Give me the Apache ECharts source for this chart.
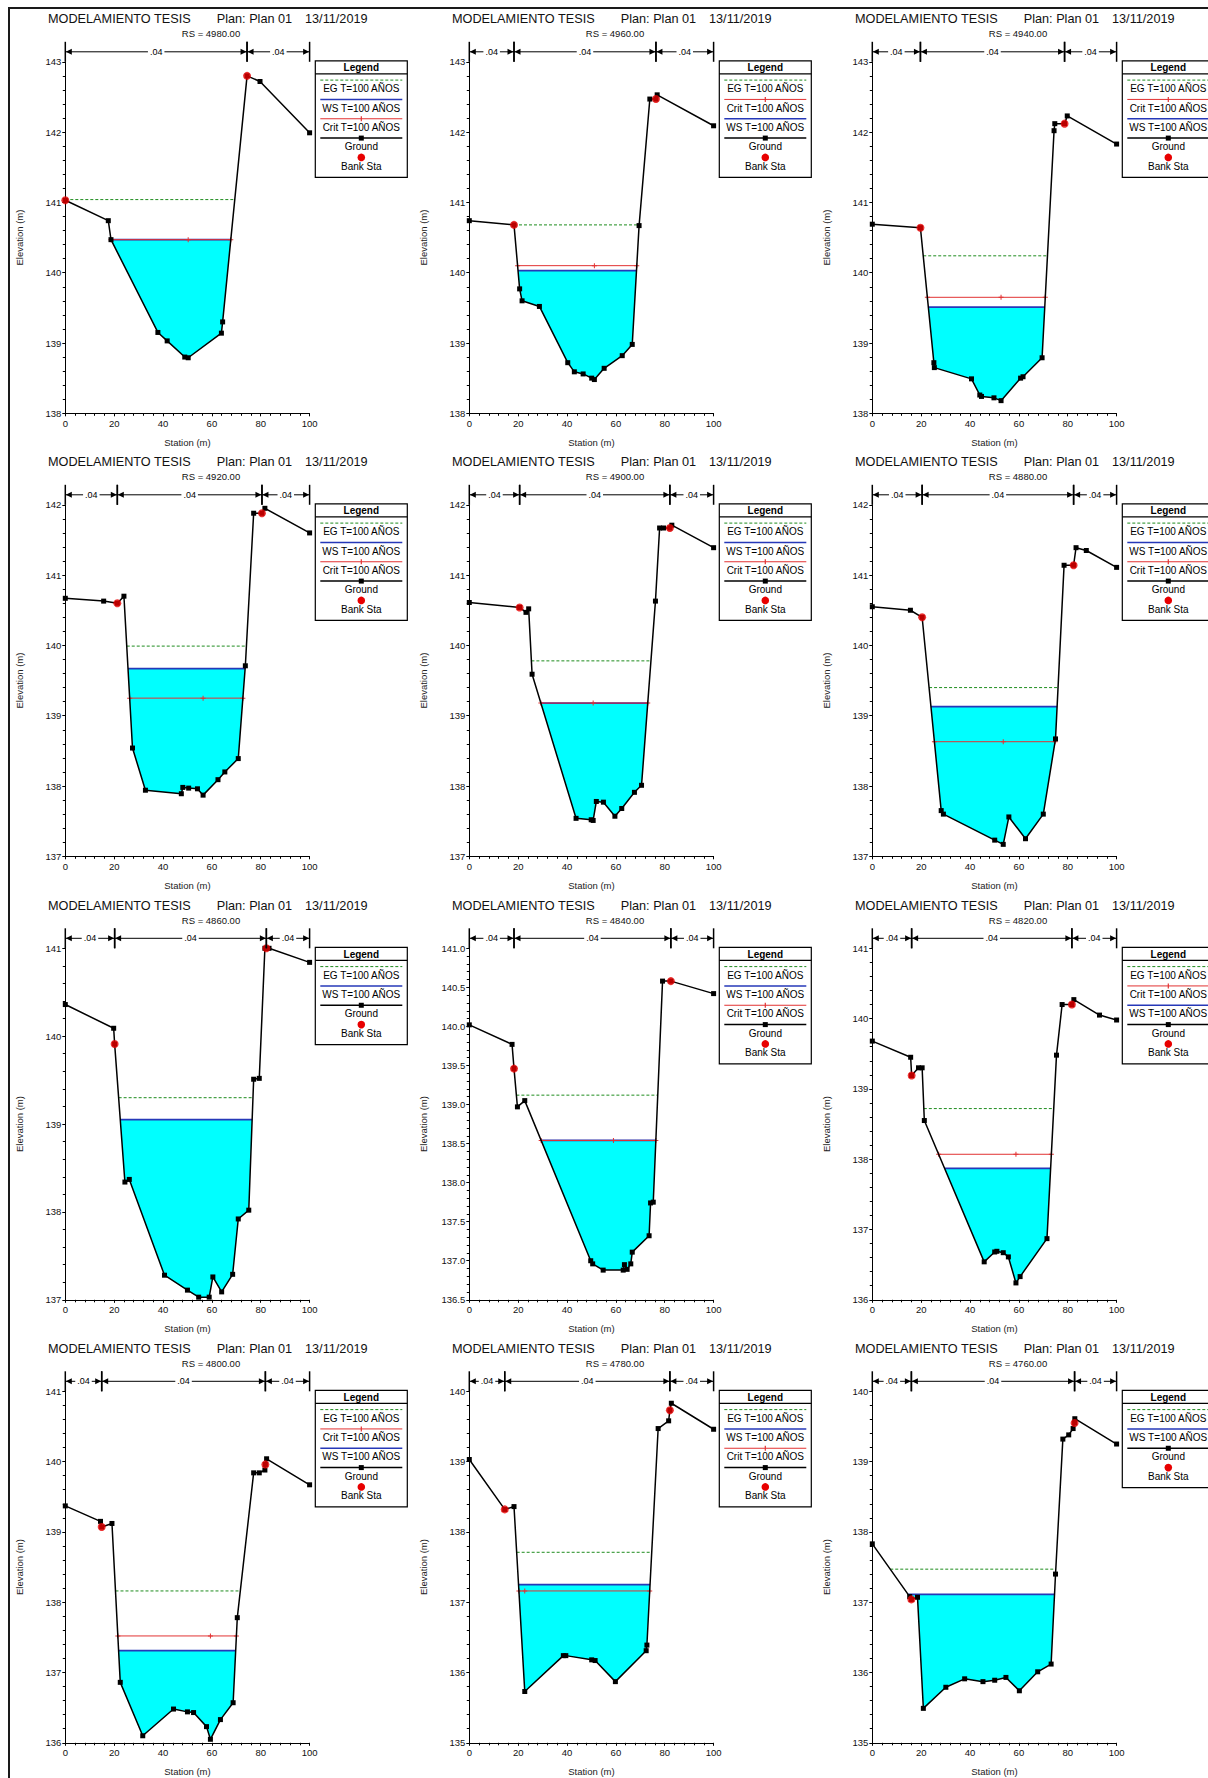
<!DOCTYPE html>
<html><head><meta charset="utf-8">
<script src="https://cdn.jsdelivr.net/npm/echarts@6/dist/echarts.min.js"></script>
<style>html,body{margin:0;padding:0;background:#fff}#c{width:1208px;height:1778px}</style>
</head><body><div id="c"></div>
<script>
// ---------------- DATA ----------------
const projectTitle = 'MODELAMIENTO TESIS';
const planText = 'Plan: Plan 01';
const dateText = '13/11/2019';
const riverStations = ['4980.00','4960.00','4940.00','4920.00','4900.00','4880.00','4860.00','4840.00','4820.00','4800.00','4780.00','4760.00'];
const yMins = [138,138,138,137,137,137,137,136.5,136,136,135,135];
const yMaxs = [143,143,143,142,142,142,141,141,141,141,140,140];
const yIntervals = [1,1,1,1,1,1,1,0.5,1,1,1,1];
const xTicks = [0,20,40,60,80,100];
const manningN = ['.04','.04','.04'];
const legendNames = {eg:'EG T=100 AÑOS', ws:'WS T=100 AÑOS', crit:'Crit T=100 AÑOS', ground:'Ground', bank:'Bank Sta'};

const ground4980 = [[0,141.03],[17.6,140.74],[18.7,140.47],[37.9,139.15],[41.7,139.03],[48.9,138.80],[50.3,138.79],[63.9,139.14],[64.4,139.30],[74.4,142.80],[79.7,142.72],[100,141.99]];
const ground4960 = [[0,140.74],[18.3,140.68],[20.6,139.77],[21.6,139.60],[28.7,139.52],[40.3,138.72],[43.0,138.59],[46.6,138.56],[50.1,138.50],[51.2,138.48],[55.2,138.64],[62.6,138.82],[66.7,138.98],[69.5,140.67],[73.9,142.47],[76.4,142.47],[76.9,142.53],[100,142.09]];
const ground4940 = [[0,140.69],[19.7,140.64],[25.2,138.72],[25.4,138.65],[40.6,138.49],[44.0,138.26],[44.7,138.24],[49.8,138.22],[52.7,138.18],[60.7,138.50],[61.7,138.52],[69.5,138.79],[74.4,142.02],[74.7,142.12],[78.7,142.12],[79.8,142.23],[100,141.83]];
const ground4920 = [[0,140.67],[15.7,140.63],[21.3,140.60],[24.0,140.70],[27.5,138.54],[32.8,137.94],[47.5,137.89],[48.1,137.98],[50.5,137.97],[54.1,137.96],[56.4,137.87],[62.5,138.09],[65.3,138.20],[70.8,138.39],[73.7,139.71],[77.1,141.88],[80.5,141.88],[81.7,141.95],[100,141.60]];
const ground4900 = [[0,140.61],[20.6,140.54],[23.2,140.47],[24.3,140.52],[25.7,139.59],[43.7,137.54],[49.9,137.52],[50.7,137.51],[52.0,137.78],[54.9,137.77],[59.6,137.57],[62.4,137.68],[67.6,137.91],[70.5,138.01],[76.2,140.63],[77.9,141.67],[79.5,141.67],[82.1,141.67],[82.9,141.71],[100,141.39]];
const ground4880 = [[0,140.55],[15.6,140.50],[20.4,140.40],[28.2,137.65],[29.1,137.60],[50.1,137.23],[53.6,137.17],[55.9,137.56],[62.7,137.25],[70.0,137.60],[75.0,138.67],[78.5,141.14],[82.4,141.14],[83.4,141.39],[87.6,141.35],[100,141.11]];
const ground4860 = [[0,140.36],[19.8,140.09],[20.2,139.91],[24.4,138.34],[26.2,138.37],[40.6,137.28],[50.0,137.11],[54.6,137.03],[58.9,137.03],[60.4,137.26],[64.0,137.09],[68.5,137.29],[70.8,137.92],[75.1,138.02],[77.1,139.51],[79.4,139.52],[81.7,141.00],[82.3,141.00],[83.4,141.00],[100,140.84]];
const ground4840 = [[0,140.02],[17.5,139.77],[18.3,139.46],[19.7,138.97],[22.7,139.05],[49.7,137.00],[50.5,136.96],[54.8,136.88],[63.0,136.88],[63.5,136.95],[64.6,136.89],[66.1,136.96],[66.7,137.11],[73.6,137.32],[74.2,137.74],[75.3,137.75],[79.1,140.58],[82.5,140.58],[100,140.42]];
const ground4820 = [[0,139.68],[15.7,139.45],[16.1,139.19],[18.9,139.30],[20.4,139.30],[21.3,138.55],[45.8,136.54],[50.1,136.68],[51.0,136.69],[53.6,136.67],[55.7,136.61],[58.8,136.24],[60.5,136.33],[71.5,136.87],[75.4,139.48],[77.7,140.20],[81.7,140.20],[82.5,140.27],[93.0,140.05],[100,139.98]];
const ground4800 = [[0,139.37],[14.4,139.15],[14.9,139.07],[19.1,139.12],[22.5,136.86],[31.7,136.10],[44.3,136.48],[50.0,136.44],[52.5,136.43],[57.8,136.23],[59.4,136.05],[63.5,136.33],[68.7,136.57],[70.4,137.78],[77.1,139.84],[79.4,139.84],[81.7,139.88],[81.9,139.96],[82.4,140.04],[100,139.67]];
const ground4780 = [[0,139.03],[14.5,138.32],[18.3,138.36],[22.7,135.73],[38.5,136.24],[39.5,136.24],[50.1,136.18],[51.5,136.17],[59.8,135.87],[72.4,136.31],[72.7,136.39],[77.3,139.47],[81.6,139.58],[82.1,139.73],[82.7,139.83],[100,139.46]];
const ground4760 = [[0,137.83],[15.3,137.08],[16.0,137.04],[18.5,137.07],[20.9,135.49],[30.1,135.79],[37.8,135.91],[45.3,135.87],[50.1,135.89],[54.7,135.93],[60.2,135.74],[67.7,136.01],[73.2,136.12],[75.0,137.40],[78.0,139.32],[80.4,139.38],[82.2,139.47],[82.8,139.55],[82.9,139.61],[100,139.25]];

const bank4980 = [[0,141.03],[74.4,142.80]];
const bank4960 = [[18.3,140.68],[76.4,142.47]];
const bank4940 = [[19.7,140.64],[78.7,142.12]];
const bank4920 = [[21.3,140.60],[80.5,141.88]];
const bank4900 = [[20.6,140.54],[82.1,141.67]];
const bank4880 = [[20.4,140.40],[82.4,141.14]];
const bank4860 = [[20.2,139.91],[82.3,141.00]];
const bank4840 = [[18.3,139.46],[82.5,140.58]];
const bank4820 = [[16.1,139.19],[81.7,140.20]];
const bank4800 = [[14.9,139.07],[81.9,139.96]];
const bank4780 = [[14.5,138.32],[82.1,139.73]];
const bank4760 = [[16.0,137.04],[82.8,139.55]];

const egLevels   = [141.04,140.68,140.24,139.99,139.78,139.40,139.30,139.12,138.72,138.16,137.71,137.47];
const wsLevels   = [140.47,140.03,139.51,139.67,139.18,139.13,139.05,138.54,137.87,137.31,137.25,137.11];
const critLevels = [140.47,140.10,139.65,139.25,139.18,138.63,null,138.54,138.07,137.52,137.16,null];
const critMarks  = [50.3,51.2,52.7,56.4,50.7,53.6,null,59.0,58.8,59.4,22.7,null];

const grounds = [ground4980,ground4960,ground4940,ground4920,ground4900,ground4880,ground4860,ground4840,ground4820,ground4800,ground4780,ground4760];
const banks = [bank4980,bank4960,bank4940,bank4920,bank4900,bank4880,bank4860,bank4840,bank4820,bank4800,bank4780,bank4760];

// ---------------- LAYOUT / STYLE ----------------
const FONT = '"Liberation Sans", Arial, sans-serif';
const COL_LEFT = [65.3, 469.3, 872.3];
const ROW_TOP = [61.8, 504.8, 948.3, 1391.3];
const GRID_W = 244.3, GRID_H = 351.5;
const C_FILL = '#00FFFF', C_EG = '#1E8C1E', C_WS = '#2638B8', C_CRIT = '#E23232', C_BANK = '#E80000';
const PLUS = 'path://M2,0H3V2H5V3H3V5H2V3H0V2H2Z';

function interp(a, b, lev) { const t = (lev - a[1]) / (b[1] - a[1]); return a[0] + t * (b[0] - a[0]); }
function wetExtent(g, level) {
  let imin = 0;
  for (let k = 1; k < g.length; k++) if (g[k][1] < g[imin][1]) imin = k;
  let L = imin, R = imin;
  while (L > 0 && g[L - 1][1] < level) L--;
  while (R < g.length - 1 && g[R + 1][1] < level) R++;
  const xl = L > 0 ? interp(g[L - 1], g[L], level) : g[0][0];
  const xr = R < g.length - 1 ? interp(g[R], g[R + 1], level) : g[g.length - 1][0];
  return {L, R, xl, xr};
}

const grids = [], xAxes = [], yAxes = [], series = [], graphics = [];
graphics.push({type:'rect', silent:true, shape:{x:9, y:8, width:1400, height:1900}, style:{fill:'none', stroke:'#1a1a1a', lineWidth:2}});

function txt(x, y, text, size, opts) {
  return Object.assign({type:'text', x, y, silent:true, style:Object.assign({text, fontSize:size, fontFamily:FONT, fill:'#111', align:'left', verticalAlign:'middle'}, opts || {})});
}

function addLegend(bx, by, items) {
  const w = 92, h = 20 + items.length * 19.33;
  graphics.push({type:'rect', silent:true, shape:{x:bx, y:by, width:w, height:h}, style:{fill:'#fff', stroke:'#000', lineWidth:1.2}});
  graphics.push(txt(bx + w / 2, by + 7, 'Legend', 10, {align:'center', fontWeight:'bold', fill:'#000'}));
  graphics.push({type:'line', silent:true, shape:{x1:bx, y1:by + 13, x2:bx + w, y2:by + 13}, style:{stroke:'#000', lineWidth:1.2}});
  items.forEach((it, k) => {
    const ly = by + 19.3 + k * 19.33, ty = by + 28 + k * 19.33;
    const x1 = bx + 5, x2 = bx + w - 5, cx = bx + w / 2;
    if (it === 'eg') graphics.push({type:'line', silent:true, shape:{x1, y1:ly, x2, y2:ly}, style:{stroke:C_EG, lineWidth:1, lineDash:[3,2]}});
    if (it === 'ws') graphics.push({type:'line', silent:true, shape:{x1, y1:ly, x2, y2:ly}, style:{stroke:C_WS, lineWidth:1.5}});
    if (it === 'crit') {
      graphics.push({type:'line', silent:true, shape:{x1, y1:ly, x2, y2:ly}, style:{stroke:C_CRIT, lineWidth:1}});
      graphics.push({type:'rect', silent:true, shape:{x:cx - 0.6, y:ly - 2.5, width:1.2, height:5}, style:{fill:C_CRIT}});
    }
    if (it === 'ground') {
      graphics.push({type:'line', silent:true, shape:{x1, y1:ly, x2, y2:ly}, style:{stroke:'#000', lineWidth:1.5}});
      graphics.push({type:'rect', silent:true, shape:{x:cx - 2.5, y:ly - 2.5, width:5, height:5}, style:{fill:'#000'}});
    }
    if (it === 'bank') graphics.push({type:'circle', silent:true, shape:{cx, cy:ly, r:3.8}, style:{fill:C_BANK}});
    graphics.push(txt(cx, ty, legendNames[it], 10, {align:'center', fill:'#000'}));
  });
}

for (let i = 0; i < 12; i++) {
  const col = i % 3, row = Math.floor(i / 3);
  const gl = COL_LEFT[col], gt = ROW_TOP[row];
  const g = grounds[i], bk = banks[i];
  grids.push({left:gl, top:gt, width:GRID_W, height:GRID_H, outerBoundsMode:'none', containLabel:false, show:false});
  const labelStyle = {color:'#111', fontSize:9.5, fontFamily:FONT};
  xAxes.push({gridIndex:i, type:'value', min:xTicks[0], max:xTicks[xTicks.length - 1], interval:xTicks[1] - xTicks[0],
    axisLine:{show:true, onZero:false, lineStyle:{color:'#000', width:1}},
    axisTick:{show:true, length:3, lineStyle:{color:'#000'}},
    minorTick:{show:true, splitNumber:5, length:2.5, lineStyle:{color:'#000'}},
    splitLine:{show:false}, minorSplitLine:{show:false},
    axisLabel:Object.assign({margin:5, showMinLabel:true, showMaxLabel:true}, labelStyle),
    name:'Station (m)', nameLocation:'middle', nameGap:24,
    nameTextStyle:{color:'#222', fontSize:9.5, fontFamily:FONT}});
  const iv = yIntervals[i];
  yAxes.push({gridIndex:i, type:'value', min:yMins[i], max:yMaxs[i], interval:iv,
    axisLine:{show:true, onZero:false, lineStyle:{color:'#000', width:1}},
    axisTick:{show:true, length:3, lineStyle:{color:'#000'}},
    minorTick:{show:true, splitNumber:5, length:2.5, lineStyle:{color:'#000'}},
    splitLine:{show:false}, minorSplitLine:{show:false},
    axisLabel:Object.assign({margin:4, showMinLabel:true, showMaxLabel:true, formatter:v => iv < 1 ? v.toFixed(1) : String(Math.round(v))}, labelStyle),
    name:'Elevation (m)', nameLocation:'middle', nameGap:iv < 1 ? 41 : 41, nameRotate:90,
    nameTextStyle:{color:'#222', fontSize:9.5, fontFamily:FONT}});

  // water fill
  const ws = wsLevels[i];
  const we = wetExtent(g, ws);
  const poly = [[we.xl, ws]].concat(g.slice(we.L, we.R + 1)).concat([[we.xr, ws]]);
  series.push({type:'custom', xAxisIndex:i, yAxisIndex:i, silent:true, z:1, clip:true, animation:false,
    data:[[poly[0][0], poly[0][1]]],
    renderItem:(params, api) => ({type:'polygon', shape:{points:poly.map(p => api.coord(p))}, style:{fill:C_FILL}})});

  // EG
  const eg = egLevels[i], ee = wetExtent(g, eg);
  series.push({type:'line', xAxisIndex:i, yAxisIndex:i, silent:true, z:2, animation:false, symbol:'none',
    data:[[ee.xl, eg], [ee.xr, eg]], lineStyle:{color:C_EG, width:1, type:[3,2]}});
  // WS
  series.push({type:'line', xAxisIndex:i, yAxisIndex:i, silent:true, z:3, animation:false, symbol:'none',
    data:[[we.xl, ws], [we.xr, ws]], lineStyle:{color:C_WS, width:1.8}});
  // Crit
  const cr = critLevels[i];
  if (cr !== null) {
    const ce = wetExtent(g, cr);
    series.push({type:'line', xAxisIndex:i, yAxisIndex:i, silent:true, z:4, animation:false,
      symbol:PLUS, symbolSize:5, showSymbol:true, itemStyle:{color:C_CRIT},
      data:[[ce.xl, cr], [critMarks[i], cr], [ce.xr, cr]], lineStyle:{color:C_CRIT, width:1}});
  }
  // Ground
  series.push({type:'line', xAxisIndex:i, yAxisIndex:i, silent:true, z:5, animation:false,
    symbol:'rect', symbolSize:5, showSymbol:true, showAllSymbol:true, itemStyle:{color:'#000'},
    lineStyle:{color:'#000', width:1.5}, data:g});
  // Bank stations
  series.push({type:'scatter', xAxisIndex:i, yAxisIndex:i, silent:true, z:6, animation:false,
    symbol:'circle', symbolSize:8, itemStyle:{color:C_BANK}, data:bk});

  // Manning's n bar
  const bounds = [xTicks[0]];
  bk.forEach(b => { if (b[0] > bounds[bounds.length - 1] + 0.01) bounds.push(b[0]); });
  bounds.push(xTicks[xTicks.length - 1]);
  const segs = [];
  for (let k = 0; k < bounds.length - 1; k++) segs.push([bounds[k], bounds[k + 1], manningN[k]]);
  const ymax = yMaxs[i];
  series.push({type:'custom', xAxisIndex:i, yAxisIndex:i, silent:true, z:20, clip:false, animation:false,
    data:segs.map(s => [s[0], s[1]]),
    renderItem:(params, api) => {
      const s = segs[params.dataIndex];
      const a = api.coord([s[0], ymax]), b = api.coord([s[1], ymax]);
      const yT = a[1], yl = yT - 10;
      return {type:'group', children:[
        {type:'line', shape:{x1:a[0], y1:yT - 20, x2:a[0], y2:yT}, style:{stroke:'#000', lineWidth:1.5}},
        {type:'line', shape:{x1:b[0], y1:yT - 20, x2:b[0], y2:yT}, style:{stroke:'#000', lineWidth:1.5}},
        {type:'line', shape:{x1:a[0], y1:yl, x2:b[0], y2:yl}, style:{stroke:'#000', lineWidth:1}},
        {type:'polygon', shape:{points:[[a[0] + 0.5, yl], [a[0] + 6.5, yl - 3], [a[0] + 6.5, yl + 3]]}, style:{fill:'#000'}},
        {type:'polygon', shape:{points:[[b[0] - 0.5, yl], [b[0] - 6.5, yl - 3], [b[0] - 6.5, yl + 3]]}, style:{fill:'#000'}},
        {type:'text', x:(a[0] + b[0]) / 2, y:yl, style:{text:s[2], align:'center', verticalAlign:'middle', fontSize:9, fontFamily:FONT, fill:'#000', backgroundColor:'#fff', padding:[0, 2]}}
      ]};
    }});

  // titles
  graphics.push(txt(gl - 17.3, gt - 42.5, projectTitle, 12.7));
  graphics.push(txt(gl + 151.4, gt - 42.5, planText, 12.7));
  graphics.push(txt(gl + 239.7, gt - 42.5, dateText, 12.7));
  graphics.push(txt(gl + 145.7, gt - 28, 'RS = ' + riverStations[i], 9.5, {align:'center'}));

  // legend
  let items;
  if (cr === null) items = ['eg', 'ws', 'ground', 'bank'];
  else if (cr > ws) items = ['eg', 'crit', 'ws', 'ground', 'bank'];
  else items = ['eg', 'ws', 'crit', 'ground', 'bank'];
  addLegend(gl + GRID_W + 5.7, gt - 1, items);
}

const chart = echarts.init(document.getElementById('c'), null, {renderer:'svg', width:1208, height:1778});
chart.setOption({animation:false, backgroundColor:'#fff', grid:grids, xAxis:xAxes, yAxis:yAxes, series, graphic:{elements:graphics}});
</script>
</body></html>
